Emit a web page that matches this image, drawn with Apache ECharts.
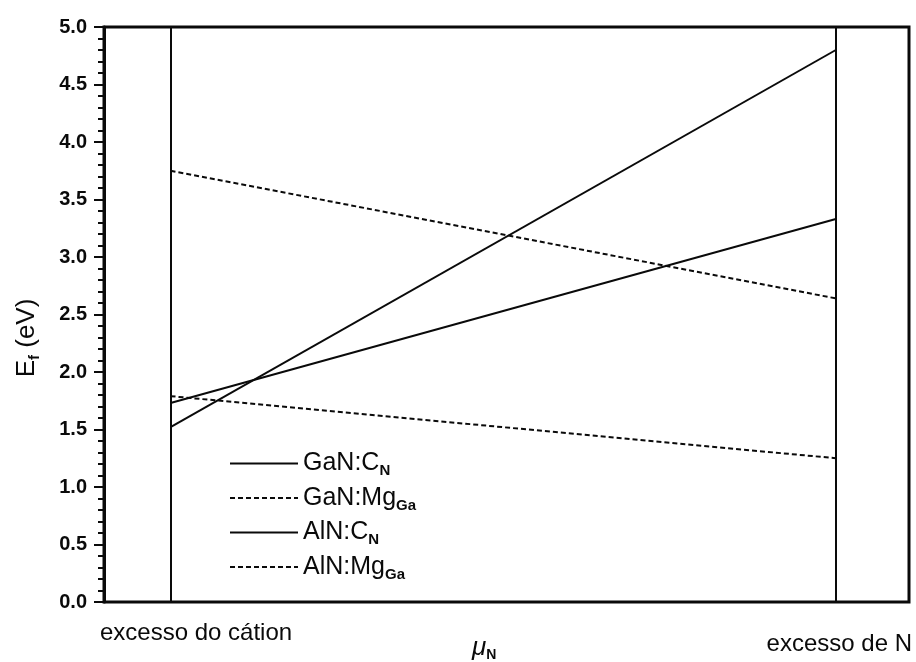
<!DOCTYPE html>
<html>
<head>
<meta charset="utf-8">
<title>Energia de formação vs μN</title>
<script src="https://cdn.jsdelivr.net/npm/echarts@6/dist/echarts.min.js"></script>
<style>
  html, body { margin: 0; padding: 0; background: #fff; }
  #chart { width: 916px; height: 662px; }
</style>
</head>
<body>
<div id="chart"></div>
<script>
// Chemical potential of N: 0 = cation-rich limit, 1 = N-rich limit
const muN = [0, 1];

// Formation energies (eV) at the two limits
const gaN_CN   = [1.73, 3.33];
const gaN_MgGa = [1.79, 1.25];
const alN_CN   = [1.52, 4.80];
const alN_MgGa = [3.75, 2.64];

const seriesNames = ['GaN:C_N', 'GaN:Mg_Ga', 'AlN:C_N', 'AlN:Mg_Ga'];
const legendText = {
  'GaN:C_N':   '{a|GaN:C}{s|N}',
  'GaN:Mg_Ga': '{a|GaN:Mg}{s|Ga}',
  'AlN:C_N':   '{a|AlN:C}{s|N}',
  'AlN:Mg_Ga': '{a|AlN:Mg}{s|Ga}'
};

const yTicks = { min: 0, max: 5, interval: 0.5 };
const xEdgeLabels = ['excesso do cátion', 'excesso de N'];

const FONT = 'Arial, "Liberation Sans", sans-serif';
const INK = '#0a0a0a';

function pairs(ys) { return muN.map((x, i) => [x, ys[i]]); }

function lineSeries(name, ys, dashed, extra) {
  return Object.assign({
    name: name,
    type: 'line',
    data: pairs(ys),
    symbol: 'none',
    silent: true,
    itemStyle: { color: INK },
    lineStyle: { color: INK, width: 2, type: dashed ? [5, 3] : 'solid' }
  }, extra || {});
}

const chart = echarts.init(document.getElementById('chart'), null, { renderer: 'canvas' });

chart.setOption({
  animation: false,
  backgroundColor: '#fff',
  grid: {
    left: 104, right: 7, top: 27, bottom: 60,
    show: true, borderColor: INK, borderWidth: 3, backgroundColor: 'transparent'
  },
  xAxis: {
    type: 'value', min: -0.1, max: 1.11,
    axisLine: { show: false }, axisTick: { show: false },
    axisLabel: { show: false }, splitLine: { show: false }
  },
  yAxis: {
    type: 'value', min: yTicks.min, max: yTicks.max, interval: yTicks.interval,
    axisLine: { show: true, onZero: false, lineStyle: { color: INK, width: 3 } },
    axisTick: { show: true, inside: false, length: 10, lineStyle: { color: INK, width: 2 } },
    minorTick: { show: true, splitNumber: 5, length: 6, lineStyle: { color: INK, width: 2 } },
    splitLine: { show: false },
    minorSplitLine: { show: false },
    axisLabel: {
      margin: 17, color: INK, fontFamily: FONT, fontSize: 20, fontWeight: 'bold',
      formatter: v => v.toFixed(1)
    }
  },
  legend: {
    orient: 'vertical', left: 229, top: 451, padding: 0,
    itemWidth: 68, itemHeight: 14, itemGap: 7,
    data: seriesNames,
    itemStyle: { opacity: 0 },
    formatter: name => legendText[name],
    textStyle: {
      color: INK,
      rich: {
        a: { fontFamily: FONT, fontSize: 25, color: INK, lineHeight: 30 },
        s: { fontFamily: FONT, fontSize: 15, fontWeight: 'bold', color: INK,
             lineHeight: 15, verticalAlign: 'bottom' }
      }
    }
  },
  series: [
    lineSeries(seriesNames[0], gaN_CN, false, {
      markLine: {
        silent: true, symbol: ['none', 'none'], label: { show: false },
        lineStyle: { color: INK, width: 2, type: 'solid' },
        data: muN.map(x => ({ xAxis: x }))
      }
    }),
    lineSeries(seriesNames[1], gaN_MgGa, true),
    lineSeries(seriesNames[2], alN_CN, false),
    lineSeries(seriesNames[3], alN_MgGa, true)
  ],
  graphic: [
    {
      type: 'text', x: 27, y: 338, rotation: Math.PI / 2,
      style: {
        text: '{a|E}{s|f}{a| (eV)}', align: 'center', verticalAlign: 'middle',
        rich: {
          a: { fontFamily: FONT, fontSize: 26, fill: INK, lineHeight: 30 },
          s: { fontFamily: FONT, fontSize: 15, fontWeight: 'bold', fill: INK,
               lineHeight: 15, verticalAlign: 'bottom' }
        }
      }
    },
    {
      type: 'text', x: 100, y: 633,
      style: { text: xEdgeLabels[0], fontFamily: FONT, fontSize: 24, fill: INK,
               align: 'left', verticalAlign: 'middle' }
    },
    {
      type: 'text', x: 912, y: 644,
      style: { text: xEdgeLabels[1], fontFamily: FONT, fontSize: 24, fill: INK,
               align: 'right', verticalAlign: 'middle' }
    },
    {
      type: 'text', x: 472, y: 648,
      style: {
        text: '{m|μ}{s|N}', align: 'left', verticalAlign: 'middle',
        rich: {
          m: { fontFamily: FONT, fontSize: 26, fontStyle: 'italic', fill: INK, lineHeight: 28 },
          s: { fontFamily: FONT, fontSize: 14, fontWeight: 'bold', fill: INK,
               lineHeight: 14, verticalAlign: 'bottom' }
        }
      }
    }
  ]
});
</script>
</body>
</html>
